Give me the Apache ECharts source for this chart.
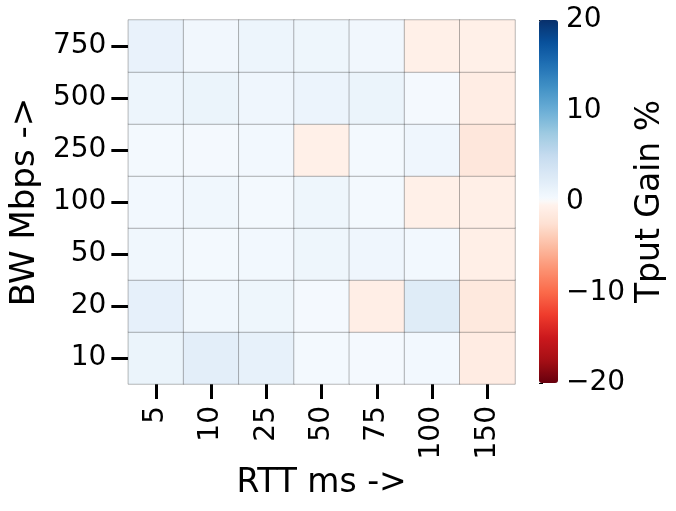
<!DOCTYPE html>
<html>
<head>
<meta charset="utf-8">
<script src="https://cdn.jsdelivr.net/npm/echarts@6/dist/echarts.min.js"></script>
<style>html,body{margin:0;padding:0;background:#fff;}#c{width:676px;height:511px;}</style>
</head>
<body>
<div id="c"></div>
<script>
var rtt = ['5', '10', '25', '50', '75', '100', '150'];
var bw = ['10', '20', '50', '100', '250', '500', '750'];
var gainBw10  = [1.2, 2.0, 1.6, 0.4, 0.3, 0.5, -1.1];
var gainBw20  = [1.7, 0.7, 0.9, 0.3, -0.9, 2.4, -1.5];
var gainBw50  = [0.7, 0.4, 0.5, 0.9, 0.8, 0.5, -0.8];
var gainBw100 = [0.5, 0.7, 0.4, 0.9, 0.4, -0.7, -0.8];
var gainBw250 = [0.4, 0.3, 0.5, -0.7, 0.4, 0.8, -1.7];
var gainBw500 = [1.0, 1.2, 0.8, 1.1, 1.2, 0.3, -1.0];
var gainBw750 = [1.4, 0.6, 1.0, 0.9, 0.6, -0.7, -0.7];
var colorTicks = [-20, -10, 0, 10, 20];

var rows = [gainBw10, gainBw20, gainBw50, gainBw100, gainBw250, gainBw500, gainBw750];
var data = [];
rows.forEach(function (row, yi) {
  row.forEach(function (v, xi) { data.push([xi, yi, v]); });
});

// colour scale: matplotlib Reds (reversed) below 0, Blues above 0
var BLUES = ['#f7fbff', '#deebf7', '#c6dbef', '#9ecae1', '#6baed6', '#4292c6', '#2171b5', '#08519c', '#08306b'];
var REDS  = ['#fff5f0', '#fee0d2', '#fcbba1', '#fc9272', '#fb6a4a', '#ef3b2c', '#cb181d', '#a50f15', '#67000d'];
function hex2rgb(h) { return [parseInt(h.substr(1, 2), 16), parseInt(h.substr(3, 2), 16), parseInt(h.substr(5, 2), 16)]; }
function interp(stops, t) {
  var p = t * (stops.length - 1), i = Math.min(Math.floor(p), stops.length - 2), f = p - i;
  var a = hex2rgb(stops[i]), b = hex2rgb(stops[i + 1]);
  return 'rgb(' + [0, 1, 2].map(function (k) { return Math.round(a[k] + (b[k] - a[k]) * f); }).join(',') + ')';
}
var N = 400, scale = [];
for (var k = 0; k < N; k++) {
  var t = k / (N - 1) * 2 - 1;          // -1 .. 1
  scale.push(t < 0 ? interp(REDS, -t) : interp(BLUES, t));
}

var FONT = 'DejaVu Sans';
var chart = echarts.init(document.getElementById('c'), null, {renderer: 'canvas'});
chart.setOption({
  backgroundColor: '#ffffff',
  animation: false,
  grid: [
    {left: 124, top: 20, width: 391, height: 364},
    {left: 539, top: 20, width: 19, height: 363}
  ],
  xAxis: [
    {
      type: 'category', gridIndex: 0, data: rtt,
      axisLine: {show: false},
      axisTick: {show: true, alignWithLabel: true, length: 15, lineStyle: {color: '#000', width: 3}},
      axisLabel: {rotate: 90, fontSize: 28, fontFamily: FONT, color: '#000', margin: 22},
      splitLine: {show: false},
      name: 'RTT ms ->', nameLocation: 'middle', nameGap: 82,
      nameTextStyle: {fontSize: 33, fontFamily: FONT, color: '#000'}
    },
    {
      type: 'value', gridIndex: 1, show: false, min: 0, max: 1
    }
  ],
  yAxis: [
    {
      type: 'category', gridIndex: 0, data: bw,
      axisLine: {show: false},
      axisTick: {show: true, alignWithLabel: true, length: 17, lineStyle: {color: '#000', width: 3}},
      axisLabel: {fontSize: 28, fontFamily: FONT, color: '#000', margin: 22},
      splitLine: {show: false},
      name: 'BW Mbps ->', nameLocation: 'middle', nameGap: 84, nameRotate: 90,
      nameTextStyle: {fontSize: 34, fontFamily: FONT, color: '#000'}
    },
    {
      type: 'value', gridIndex: 1, position: 'right',
      min: colorTicks[0], max: colorTicks[colorTicks.length - 1], interval: 10,
      axisLine: {show: false},
      axisTick: {show: true, length: 4, lineStyle: {color: '#000', width: 1}},
      axisLabel: {fontSize: 28, fontFamily: FONT, color: '#000', margin: 8,
        formatter: function (v) { return String(v).replace('-', '\u2212'); }},
      splitLine: {show: false},
      name: 'Tput Gain %', nameLocation: 'middle', nameGap: 76, nameRotate: 90,
      nameTextStyle: {fontSize: 33, fontFamily: FONT, color: '#000'}
    }
  ],
  visualMap: {
    type: 'continuous', min: -20, max: 20, calculable: false,
    orient: 'vertical', left: 539, top: 20, itemWidth: 19, itemHeight: 363,
    padding: 0, text: null, showLabel: false, seriesIndex: 0,
    inRange: {color: scale}
  },
  series: [
    {
      type: 'heatmap', xAxisIndex: 0, yAxisIndex: 0, data: data,
      itemStyle: {borderColor: 'rgba(60,60,60,0.35)', borderWidth: 1},
      emphasis: {disabled: true}
    },
    {
      type: 'scatter', xAxisIndex: 1, yAxisIndex: 1, data: [], silent: true
    }
  ]
});
</script>
</body>
</html>
